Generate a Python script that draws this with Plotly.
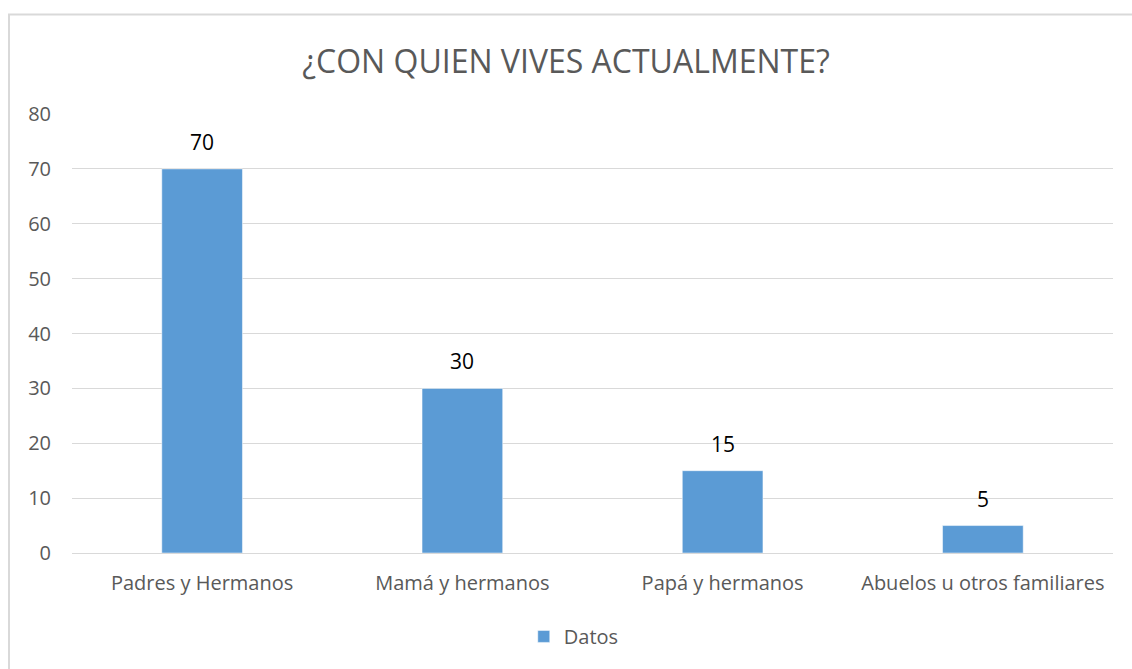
import plotly.graph_objects as go

categorias = ['Padres y Hermanos', 'Mamá y hermanos', 'Papá y hermanos', 'Abuelos u otros familiares']
datos = [70, 30, 15, 5]

bar_color = '#5B9BD5'
text_gray = '#595959'
grid_gray = '#d9d9d9'
font_family = 'Open Sans, sans-serif'

fig = go.Figure(data=go.Bar(
    x=categorias,
    y=datos,
    name='Datos',
    marker=dict(color=bar_color),
    showlegend=True,
))

# value labels above the bars
for cat, val in zip(categorias, datos):
    fig.add_annotation(x=cat, y=val, text=str(val), showarrow=False,
                       yanchor='middle', yshift=27,
                       font=dict(color='black', size=21, family=font_family))

# chart border like the spreadsheet frame
fig.add_shape(type='rect', xref='paper', yref='paper',
              x0=-0.0605, x1=1.1, y0=-0.4, y1=1.2267,
              line=dict(color=grid_gray, width=2))

fig.update_layout(
    width=1132,
    height=669,
    template='plotly_white',
    paper_bgcolor='white',
    plot_bgcolor='white',
    font=dict(family=font_family, color=text_gray, size=20),
    title=dict(text='¿CON QUIEN VIVES ACTUALMENTE?', x=0.5, xanchor='center',
               y=0.907, yanchor='middle',
               font=dict(size=32, color=text_gray, family=font_family)),
    margin=dict(l=72, r=19, t=114, b=116),
    bargap=0.69,
    xaxis=dict(showgrid=False, showline=False, ticks='', ticklabelstandoff=16,
               tickfont=dict(size=20, color=text_gray)),
    yaxis=dict(range=[0, 80], dtick=10, gridcolor=grid_gray, gridwidth=1,
               zeroline=True, zerolinecolor=grid_gray, zerolinewidth=1,
               ticks='', ticklabelstandoff=20,
               tickfont=dict(size=20, color=text_gray)),
    legend=dict(orientation='h', x=0.482, xanchor='center', y=-0.19, yanchor='middle',
                font=dict(size=20, color=text_gray)),
)

fig.write_html("out.html", config={'displayModeBar': False},
               post_script="document.body.style.margin='0';")
